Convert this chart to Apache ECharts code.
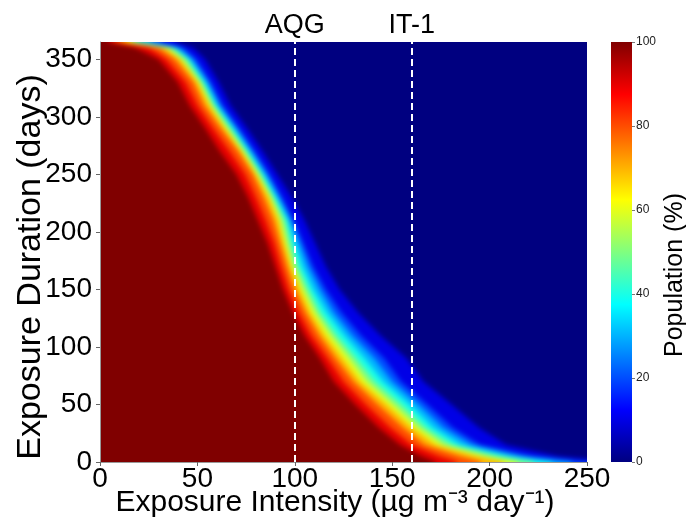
<!DOCTYPE html>
<html>
<head>
<meta charset="utf-8">
<script src="https://cdn.jsdelivr.net/npm/echarts@6/dist/echarts.min.js"></script>
<style>
  html, body { margin: 0; padding: 0; background: #fff; }
  #wrap { position: relative; width: 686px; height: 520px; }
  #clip { position: absolute; left: 100px; top: 42px; width: 487px; height: 420px; overflow: hidden; }
  #surface { position: absolute; left: -100px; top: -42px; width: 686px; height: 520px; filter: blur(2.5px); }
  #chart { position: absolute; left: 0; top: 0; width: 686px; height: 520px; }
</style>
</head>
<body>
<div id="wrap">
  <div id="clip"><div id="surface"></div></div>
  <div id="chart"></div>
</div>
<script>
// ---- data ----
// Exposure duration (days) at which each contour is sampled
const DURATIONS = [365, 360, 350, 330, 310, 290, 270, 250, 230, 210, 190, 170, 150, 130, 110, 90, 70, 50, 30, 15, 5, 0];
// Exposure intensity where the population share equals the level, per duration
const X_P95 = [4, 18, 30, 40, 46, 54, 61.5, 70, 76, 81, 86, 90, 94, 99, 105, 113, 120, 131, 143, 154, 165, 172];
const X_P85 = [7, 25, 34, 44, 50, 58, 66.5, 74.5, 80, 85, 89.5, 93, 97, 102, 108.5, 117, 125, 136.5, 149, 160, 174, 183];
const X_P75 = [10.5, 30, 38.5, 48, 53.5, 62, 71, 78.5, 84, 89, 92.5, 96, 100, 105.5, 112.5, 121, 130, 142.5, 155.5, 166.5, 184.5, 195.5];
const X_P65 = [14, 33, 41, 50, 56, 64, 72.5, 80, 86.5, 91.5, 94.5, 98, 102.5, 108, 115.5, 124.5, 133.5, 147, 160, 172, 193, 207];
const X_P55 = [16, 35, 42.5, 51.5, 57.5, 65.5, 74, 81.5, 88, 93, 96, 99.5, 104.5, 110.5, 118.5, 128, 137, 150.5, 163.5, 176, 198.5, 214.5];
const X_P45 = [18, 37, 44.5, 52.5, 58.5, 67, 75, 82.5, 89, 95, 98, 101.5, 107, 113, 121.5, 131.5, 141, 154.5, 167, 180.5, 204, 222.5];
const X_P35 = [20.5, 38.5, 46, 54, 60, 68.5, 76.5, 84, 90.5, 96.5, 100, 104, 109.5, 116.5, 125.5, 136, 145.5, 159, 171, 185, 210, 232];
const X_P25 = [26, 40.5, 47.5, 55.5, 61.5, 70, 78, 85.5, 92, 98, 102.5, 107, 113, 120, 129.5, 141, 150, 163.5, 176, 190.5, 216, 242];
const X_P15 = [31, 43, 49.5, 57, 63, 71.5, 79.5, 87, 93.5, 99.5, 104.5, 109.5, 116, 124, 134, 146, 154.5, 168, 181, 195, 222, 252];
const X_P05 = [39, 48, 54, 61, 67, 75.5, 83.5, 91, 98.5, 105, 110.5, 116, 123, 132.5, 144, 157.5, 166, 180.5, 194.5, 208.5, 235, 265.5];
const LEVELS = [5, 15, 25, 35, 45, 55, 65, 75, 85, 95];
const CONTOURS = [X_P05, X_P15, X_P25, X_P35, X_P45, X_P55, X_P65, X_P75, X_P85, X_P95];
const GUIDELINES = [{ name: 'AQG', value: 100 }, { name: 'IT-1', value: 160 }];
const X_TICKS = [0, 50, 100, 150, 200, 250];
const Y_TICKS = [0, 50, 100, 150, 200, 250, 300, 350];
const CB_TICKS = [0, 20, 40, 60, 80, 100];
const X_MIN = 0, X_MAX = 250, Y_MIN = 0, Y_MAX = 365;
const CB_MAX = [100];
const X_TITLE = 'Exposure Intensity (µg m⁻³ day⁻¹)';
const Y_TITLE = 'Exposure Duration (days)';
const CB_TITLE = 'Population (%)';

// ---- layout & styles ----
const PLOT = { left: 100, top: 42, width: 487, height: 420 };
const PAD = 12; // px of bleed around the surface so the soft edges stay outside the plot
const BAND_COLORS = ['#0000e6', '#004dff', '#00b3ff', '#1affe6', '#80ff80', '#e6ff1a', '#ffb300', '#ff4d00', '#e60000', '#800000'];
const BG_COLOR = '#000080';
const FONT = "'Liberation Sans', Arial, sans-serif";

// ---------- colour surface (soft-blended bands) ----------
const kx = (X_MAX - X_MIN) / PLOT.width, ky = (Y_MAX - Y_MIN) / PLOT.height;
const XE0 = X_MIN - PAD * kx, XE1 = X_MAX + PAD * kx, YE0 = Y_MIN - PAD * ky, YE1 = Y_MAX + PAD * ky;
const surfaceSeries = CONTOURS.map((xs, i) => {
  const pts = [[XE0, YE1], [xs[0], YE1]].concat(xs.map((x, j) => [x, DURATIONS[j]]));
  return {
    type: 'line', name: LEVELS[i] + '%', data: pts,
    showSymbol: false, smooth: false,
    lineStyle: { width: 0 },
    areaStyle: { color: BAND_COLORS[i], opacity: 1, origin: 'start' },
    silent: true, animation: false, clip: true
  };
});
const surface = echarts.init(document.getElementById('surface'), null, { renderer: 'canvas' });
surface.setOption({
  animation: false,
  grid: { left: PLOT.left - PAD, top: PLOT.top - PAD, width: PLOT.width + 2 * PAD, height: PLOT.height + 2 * PAD,
          show: true, backgroundColor: BG_COLOR, borderWidth: 0, containLabel: false, outerBoundsMode: 'none' },
  xAxis: { type: 'value', min: XE0, max: XE1, show: false },
  yAxis: { type: 'value', min: YE0, max: YE1, show: false },
  series: surfaceSeries
});

// ---------- axes, guidelines and colour bar ----------
const chart = echarts.init(document.getElementById('chart'), null, { renderer: 'canvas' });
chart.setOption({
  backgroundColor: 'transparent',
  animation: false,
  grid: [
    { left: PLOT.left, top: PLOT.top, width: PLOT.width, height: PLOT.height, show: false,
      containLabel: false, outerBoundsMode: 'none' },
    { left: 611, top: 42, width: 21, height: 420, containLabel: false, outerBoundsMode: 'none' }
  ],
  graphic: [
    { type: 'text', x: 335, y: 503, silent: true,
      style: { text: X_TITLE, fontSize: 30, fontFamily: FONT, fill: '#000', align: 'center', verticalAlign: 'middle' } },
    { type: 'text', x: 31, y: 267, rotation: Math.PI / 2, silent: true,
      style: { text: Y_TITLE, fontSize: 34, fontFamily: FONT, fill: '#000', align: 'center', verticalAlign: 'middle' } }
  ],
  xAxis: [
    {
      type: 'value', gridIndex: 0, min: X_MIN, max: X_MAX, interval: 50,
      axisLine: { show: true, lineStyle: { color: '#999', width: 1 } },
      axisTick: { show: true, length: 4, lineStyle: { color: '#666' } },
      axisLabel: { fontSize: 28, fontFamily: FONT, color: '#000', margin: 3,
        formatter: v => X_TICKS.includes(v) ? String(v) : '' },
      splitLine: { show: false }
    },
    { type: 'category', gridIndex: 1, data: ['cb'], show: false }
  ],
  yAxis: [
    {
      type: 'value', gridIndex: 0, min: Y_MIN, max: Y_MAX, interval: 50,
      axisLine: { show: true, lineStyle: { color: '#999', width: 1 } },
      axisTick: { show: true, length: 4, lineStyle: { color: '#666' } },
      axisLabel: { fontSize: 28, fontFamily: FONT, color: '#000', margin: 8, showMaxLabel: false,
        formatter: v => Y_TICKS.includes(v) ? String(v) : '' },
      splitLine: { show: false }
    },
    {
      type: 'value', gridIndex: 1, min: 0, max: 100, interval: 20, position: 'right',
      name: CB_TITLE, nameLocation: 'middle', nameGap: 31,
      nameTextStyle: { fontSize: 25, fontFamily: FONT, color: '#000', padding: [0, 46, 0, 0] },
      axisLine: { show: false },
      axisTick: { show: true, length: 3, lineStyle: { color: '#777' } },
      axisLabel: { fontSize: 12, fontFamily: FONT, color: '#222', margin: 4,
        formatter: v => CB_TICKS.includes(v) ? String(v) : '' },
      splitLine: { show: false }
    }
  ],
  series: [
    {
      type: 'line', xAxisIndex: 0, yAxisIndex: 0, data: [], silent: true, animation: false,
      markLine: {
        silent: true, symbol: 'none', animation: false,
        lineStyle: { color: '#ffffff', type: [7, 4], width: 2 },
        label: { show: true, position: 'end', formatter: '{b}', color: '#000', fontSize: 27, fontFamily: FONT, distance: 3 },
        data: GUIDELINES.map(g => ({ xAxis: g.value, name: g.name }))
      }
    },
    {
      type: 'bar', xAxisIndex: 1, yAxisIndex: 1, data: CB_MAX, barWidth: '100%',
      animation: false, silent: true,
      itemStyle: {
        color: new echarts.graphic.LinearGradient(0, 1, 0, 0, [
          { offset: 0, color: '#000080' },
          { offset: 0.125, color: '#0000ff' },
          { offset: 0.375, color: '#00ffff' },
          { offset: 0.625, color: '#ffff00' },
          { offset: 0.875, color: '#ff0000' },
          { offset: 1, color: '#800000' }
        ])
      }
    }
  ]
});
</script>
</body>
</html>
